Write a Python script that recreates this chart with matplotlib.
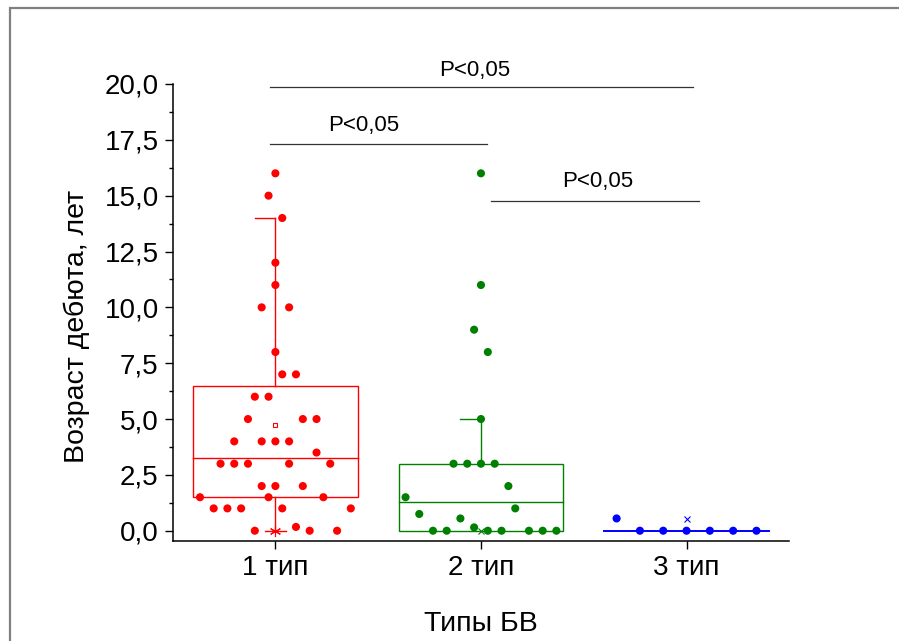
import matplotlib
matplotlib.use("Agg")
import matplotlib.pyplot as plt
from matplotlib.patches import Rectangle
from matplotlib.ticker import FixedLocator, MultipleLocator

plt.rcParams["font.family"] = ["Liberation Sans", "DejaVu Sans"]

# --- data ---------------------------------------------------------------
categories = ["1 тип", "2 тип", "3 тип"]
colors = ["#FF0000", "#008000", "#0000FF"]

# raw ages (years) per type
ages_1 = [16, 15, 14, 12, 11, 10, 10, 8, 7, 7, 6, 6, 5, 5, 5, 4, 4, 4, 4, 3.5,
          3, 3, 3, 3, 3, 2, 2, 2, 1.5, 1.5, 1.5, 1, 1, 1, 1, 1, 0.17, 0, 0, 0]
ages_2 = [16, 11, 9, 8, 5, 3, 3, 3, 3, 2, 1.5, 1, 0.75, 0.55, 0.15,
          0, 0, 0, 0, 0, 0, 0]
ages_3 = [0.55, 0, 0, 0, 0, 0, 0]

# horizontal jitter of each point (in steps)
jitter_1 = [0, -0.5, 0.5, 0, 0, -1, 1, 0, 0.5, 1.5, -1.5, -0.5, -2, 2, 3,
            -3, -1, 0, 1, 3, -4, -3, -2, 1, 4, -1, 0, 2, -5.5, -0.5, 3.5,
            -4.5, -3.5, -2.5, 0.5, 5.5, 1.5, -1.5, 2.5, 4.5]
jitter_2 = [0, 0, -0.5, 0.5, 0, -2, -1, 0, 1, 2, -5.5, 2.5, -4.5, -1.5, -0.5,
            -3.5, -2.5, 0.5, 1.5, 3.5, 4.5, 5.5]
jitter_3 = [-5.1, -3.4, -1.7, 0, 1.7, 3.4, 5.1]
jitter_step = 0.0667

# box statistics as drawn: q1, median, q3, lower whisker, upper whisker
q1 = [1.5, 0.0, 0.0]
median = [3.27, 1.27, 0.0]
q3 = [6.5, 3.0, 0.0]
whisk_lo = [0.0, 0.0, 0.0]
whisk_hi = [14.0, 5.0, 0.0]
mean_1 = 4.73
extreme_marks = [0.0, 0.0, 0.51]   # min / max "x" markers

# significance brackets
sig_x0 = [0.975, 0.975, 2.05]
sig_x1 = [3.03, 2.03, 3.06]
sig_y = [19.86, 17.33, 14.78]
sig_tx = [1.97, 1.43, 2.57]
sig_ty = [20.6, 18.12, 15.62]
sig_text = "P<0,05"

# --- figure -------------------------------------------------------------
fig = plt.figure(figsize=(8.99, 6.41), dpi=100)
ax = fig.add_axes([0.192, 0.156, 0.686, 0.713])

# grey frame round the whole picture
fig.patches.append(Rectangle((10 / 899, -0.05), 1.0, 1.05 - 8 / 641,
                             transform=fig.transFigure, fill=False,
                             edgecolor="#808080", linewidth=1.6))

box_w = 0.8
cap_w = 0.1
for i, c in enumerate(colors):
    x = i + 1
    if q3[i] > q1[i]:
        ax.add_patch(Rectangle((x - box_w / 2, q1[i]), box_w, q3[i] - q1[i],
                               fill=False, edgecolor=c, linewidth=1.0, zorder=2))
    ax.plot([x - box_w / 2, x + box_w / 2], [median[i], median[i]],
            color=c, lw=1.0 if i < 2 else 1.4, zorder=2)
    if whisk_hi[i] > q3[i]:
        ax.plot([x, x], [q3[i], whisk_hi[i]], color=c, lw=1.0, zorder=2)
        ax.plot([x - cap_w, x], [whisk_hi[i], whisk_hi[i]], color=c, lw=1.0, zorder=2)
    if whisk_lo[i] < q1[i]:
        ax.plot([x, x], [whisk_lo[i], q1[i]], color=c, lw=1.0, zorder=2)
        ax.plot([x - cap_w / 2, x + cap_w / 2], [whisk_lo[i], whisk_lo[i]],
                color=c, lw=1.0, zorder=2)

ax.plot(1, mean_1, marker="s", ms=3, mfc="white", mec=colors[0], mew=0.8, zorder=4)
ax.plot(1, extreme_marks[0], marker=(6, 2, 0), ms=8, color=colors[0], mew=0.8, zorder=4)
ax.plot(2, extreme_marks[1], marker="x", ms=4, color=colors[1], mew=0.8, zorder=1)
ax.plot(3, extreme_marks[2], marker="x", ms=4, color=colors[2], mew=0.8, zorder=4)

for i, (vals, jit) in enumerate([(ages_1, jitter_1), (ages_2, jitter_2),
                                 (ages_3, jitter_3)]):
    xs = [i + 1 + j * jitter_step for j in jit]
    ax.scatter(xs, vals, s=34, color=colors[i], edgecolors="none", zorder=3,
               clip_on=False)

for x0, x1, y, tx, ty in zip(sig_x0, sig_x1, sig_y, sig_tx, sig_ty):
    ax.plot([x0, x1], [y, y], color="#333333", lw=0.9, clip_on=False)
    ax.text(tx, ty, sig_text, ha="center", va="center", fontsize=16,
            clip_on=False)

ax.set_xlim(0.5, 3.5)
ax.set_ylim(-0.46, 20)
ax.xaxis.set_major_locator(FixedLocator([1, 2, 3]))
ax.set_xticklabels(categories)
ax.yaxis.set_minor_locator(MultipleLocator(1.25))
ax.set_yticks([i * 2.5 for i in range(9)])
ax.set_yticklabels([f"{i * 2.5:.1f}".replace(".", ",") for i in range(9)])

for side in ("top", "right"):
    ax.spines[side].set_visible(False)
for side in ("left", "bottom"):
    ax.spines[side].set_linewidth(1.1)
ax.tick_params(axis="both", which="major", direction="out", length=6,
               width=1.0, labelsize=20, pad=4)
ax.tick_params(axis="y", which="minor", direction="out", length=3, width=1.0)

ax.set_xlabel("Типы БВ", fontsize=20.5, labelpad=22)
ax.set_ylabel("Возраст дебюта, лет", fontsize=20.5)
ax.yaxis.set_label_coords(-0.134, 0.47)

fig.savefig("out.png", dpi=100)
